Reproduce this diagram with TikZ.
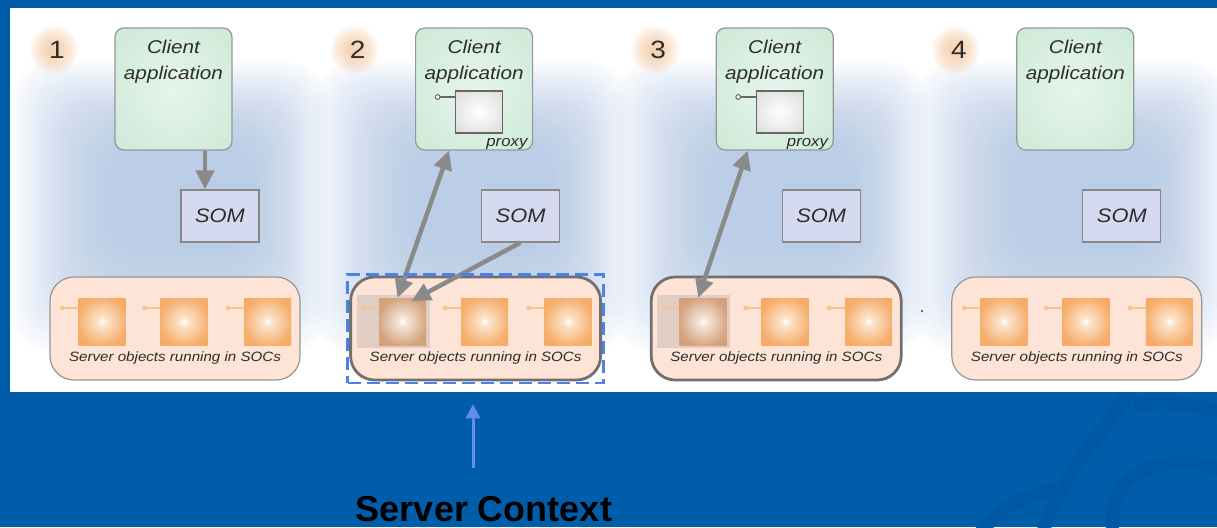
\documentclass[tikz,border=0pt]{standalone}
\usepackage{fontspec}
\setmainfont{Liberation Sans}
\newfontfamily\lbl[FakeStretch=1.12]{Liberation Sans}
\usetikzlibrary{arrows.meta,fit}

% palette
\definecolor{slideblue}{RGB}{0,93,170}
\definecolor{wmblue}{RGB}{0,87,163}
\definecolor{hazeblue}{RGB}{168,193,232}
\definecolor{appgreen}{RGB}{202,232,212}
\definecolor{appgreenlt}{RGB}{230,245,236}
\definecolor{somfill}{RGB}{214,218,240}
\definecolor{socfill}{RGB}{253,228,214}
\definecolor{objorange}{RGB}{244,160,82}
\definecolor{objdark}{RGB}{236,146,70}
\definecolor{objbrown}{RGB}{206,148,102}
\definecolor{hlfill}{RGB}{224,206,196}
\definecolor{edgegray}{RGB}{150,150,150}
\definecolor{darkedge}{RGB}{112,112,112}
\definecolor{arrowgray}{RGB}{138,138,138}
\definecolor{ctxblue}{RGB}{78,128,236}
\definecolor{ctxarrowblue}{RGB}{100,140,240}
\definecolor{numglow}{RGB}{246,190,140}
\definecolor{txtgray}{RGB}{45,45,45}
\definecolor{pingold}{RGB}{246,196,140}
\colorlet{objlight}{objorange!30!white}
\colorlet{objmid}{objorange!85!white}
\colorlet{brownlight}{objbrown!25!white}
\colorlet{brownmid}{objbrown!85!white}
\colorlet{proxyedge}{black!20}

% soft fills
\pgfdeclareradialshading{objglow}{\pgfpoint{0bp}{0bp}}{color(0bp)=(white); color(5bp)=(objlight); color(26bp)=(objmid); color(50bp)=(objorange); color(72bp)=(objdark)}
\pgfdeclareradialshading{objglowon}{\pgfpoint{0bp}{0bp}}{color(0bp)=(white); color(5bp)=(brownlight); color(26bp)=(brownmid); color(50bp)=(objbrown); color(72bp)=(objbrown)}
\pgfdeclareradialshading{appglow}{\pgfpoint{0bp}{0bp}}{color(0bp)=(appgreenlt); color(40bp)=(appgreen); color(72bp)=(appgreen)}
\pgfdeclareradialshading{proxyglow}{\pgfpoint{0bp}{0bp}}{color(0bp)=(white); color(50bp)=(proxyedge); color(72bp)=(proxyedge)}

\tikzset{
  numtxt/.style={font=\lbl\fontsize{25}{30}\selectfont, text=txtgray, inner sep=0pt},
  client/.style={draw=edgegray, line width=1.2pt, rounded corners=9pt, shading=appglow,
    minimum width=117pt, minimum height=122pt, inner sep=0pt},
  apptxt/.style={font=\lbl\itshape\fontsize{18.5}{26}\selectfont, text=txtgray, align=center, inner sep=0pt},
  som/.style={draw=edgegray!90!black, line width=1.2pt, fill=somfill, minimum width=78pt,
    minimum height=52pt, inner sep=0pt, font=\lbl\itshape\fontsize{19.5}{22}\selectfont, text=txtgray},
  soc/.style={draw=edgegray, line width=1.2pt, fill=socfill, rounded corners=24pt,
    minimum width=250pt, minimum height=103pt, inner sep=0pt},
  socon/.style={soc, draw=darkedge, line width=2.8pt},
  soctxt/.style={font=\lbl\itshape\fontsize{13.5}{16}\selectfont, text=txtgray, inner sep=0pt},
  obj/.style={shading=objglow, minimum width=47pt, minimum height=47pt, inner sep=0pt},
  objon/.style={obj, shading=objglowon},
  hl/.style={fill=hlfill, minimum width=73pt, minimum height=53pt, inner sep=0pt},
  pinline/.style={draw=pingold, line width=1.6pt},
  pinhead/.style={fill=pingold},
  proxy/.style={draw=black!60, line width=1.2pt, shading=proxyglow, minimum width=47pt,
    minimum height=42pt, inner sep=0pt},
  proxytxt/.style={font=\lbl\itshape\fontsize{15}{18}\selectfont, text=txtgray, inner sep=0pt},
  bigarrow/.style={draw=arrowgray, line width=4.5pt, -{Triangle[length=19pt,width=18pt]}},
  dblarrow/.style={draw=arrowgray, line width=4.5pt,
    {Triangle[length=19pt,width=18pt]}-{Triangle[length=19pt,width=18pt]}},
  ctxbox/.style={draw=ctxblue, line width=2.8pt, dash pattern=on 13pt off 6pt},
  ctxarrow/.style={draw=ctxarrowblue, line width=3pt, -{Triangle[length=14pt,width=14pt]}},
  wm/.style={draw=wmblue, line width=13pt, line cap=round},
}

\begin{document}
\begin{tikzpicture}[x=1pt,y=-1pt]
\useasboundingbox (0,0) rectangle (1217,527);

% slide background with its faint watermark
\fill[slideblue] (0,0) rectangle (1217,527);
\draw[wm] (1130,392) .. controls (1095,440) and (1060,480) .. (1040,540);
\draw[wm] (1140,404) .. controls (1175,400) and (1200,405) .. (1225,415);
\draw[wm] (1215,468) .. controls (1185,455) and (1135,465) .. (1120,490) .. controls (1112,505) and (1112,520) .. (1113,540);
\draw[wm] (975,540) .. controls (995,510) and (1025,495) .. (1052,490);

% white sheet
\fill[white] (10,8) rectangle (1217,392);

% blue haze behind each step
\begin{scope}
  \clip (10,8) rectangle (1217,392);
  \foreach \dx in {0,300.6,601.2,901.8}{
    \foreach \k in {0,...,31}{
      \fill[hazeblue, opacity=0.034, rounded corners=40pt]
        (\dx+12+\k*3.2,62+\k*2.6) rectangle (\dx+328-\k*2.4,352-\k*3.2);
    }
  }
\end{scope}

\foreach \i/\dx in {1/0,2/300.6,3/601.2,4/901.8}{
  \ifnum\i=2 \def\act{1}\else\ifnum\i=3 \def\act{1}\else\def\act{0}\fi\fi
  \ifnum\act=1 \def\socsty{socon}\def\objsty{objon}\else\def\socsty{soc}\def\objsty{obj}\fi

  % step number on a soft orange glow
  \foreach \r in {24,22,...,6}{
    \fill[numglow, opacity=0.09] (\dx+54,50) circle (\r pt);
  }
  \node[numtxt] (n\i) at (\dx+57,50) {\i};

  % client application
  \node[client] (c\i) at (\dx+173.5,89) {};
  \node[apptxt, anchor=north] (ct\i) at ([yshift=-12pt]c\i.north) {Client\\application};

  % server object manager
  \node[som] (som\i) at (\dx+220,216) {SOM};

  % server object containers
  \node[\socsty] (soc\i) at (\dx+175,328.5) {};
  \node[soctxt] (st\i) at (\dx+175,358) {Server objects running in SOCs};
  \ifnum\act=1
    \node[hl] (hl\i) at (\dx+92.5,321.5) {};
  \fi
  \foreach \k/\ox in {a/102,b/184,c/267.5}{
    \coordinate (pin\i\k) at (\dx+\ox-39.5,308);
    \draw[pinline] (pin\i\k) -- ++(16,0);
    \fill[pinhead] (pin\i\k) circle (2.4pt);
  }
  \node[\objsty] (o\i a) at (\dx+102,321.5) {};
  \node[obj] (o\i b) at (\dx+184,321.5) {};
  \node[obj] (o\i c) at (\dx+267.5,321.5) {};

  % proxy held by the client
  \ifnum\act=1
    \node[proxy] (p\i) at (\dx+178.5,112) {};
    \coordinate (pp\i) at (\dx+137,97);
    \draw[black!60, line width=1.2pt] (pp\i) -- (pp\i -| p\i.west);
    \filldraw[fill=white, draw=black!60, line width=1pt] (pp\i) circle (2.4pt);
    \node[proxytxt, anchor=base east] (pl\i) at (\dx+227,146) {proxy};
  \fi
}

% step 1: client asks the SOM
\coordinate (t1) at ([xshift=-15pt]som1.north);
\draw[bigarrow] (t1 |- c1.south) -- (t1);

% step 2: SOM hands over a server object, client talks to it through the proxy
\draw[dblarrow] ([xshift=-25pt]c2.south) -- ([xshift=-5pt]o2a.north);
\draw[bigarrow] (som2.south) -- ([xshift=9pt,yshift=-3pt]o2a.north);

% step 3: client keeps using the object
\draw[dblarrow] ([xshift=-27pt]c3.south) -- ([xshift=-5pt]o3a.north);

\fill[black!75] (922,311) circle (1.2pt);

% server context marker
\node[ctxbox, fit=(soc2), inner sep=1.5pt] (ctx) {};
\coordinate (foot) at (473,468);
\draw[ctxarrow, shorten >=20pt] (foot) -- (foot |- ctx.south);
\node[font=\bfseries\fontsize{36}{44}\selectfont, text=black, anchor=base, inner sep=0pt] (sc) at (484,521) {Server Context};
\end{tikzpicture}
\end{document}
